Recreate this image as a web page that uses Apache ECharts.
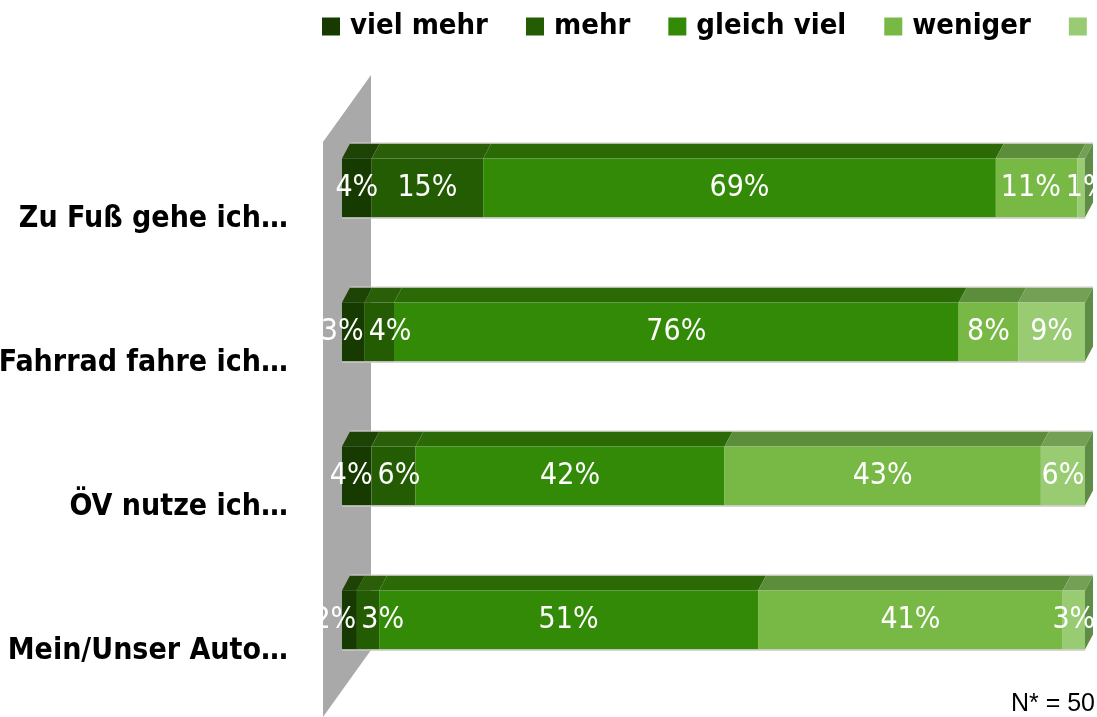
<!DOCTYPE html>
<html><head><meta charset="utf-8">
<script src="https://cdn.jsdelivr.net/npm/echarts@6/dist/echarts.min.js"></script>
<style>html,body{margin:0;padding:0;background:#fff}#c{width:1097px;height:717px}</style>
</head><body><div id="c"></div>
<script>
const categories = ['Zu Fuß gehe ich…', 'Fahrrad fahre ich…', 'ÖV nutze ich…', 'Mein/Unser Auto…'];
const seriesNames = ['viel mehr', 'mehr', 'gleich viel', 'weniger', 'viel weniger'];
const vielMehr    = [4, 3, 4, 2];
const mehr        = [15, 4, 6, 3];
const gleichViel  = [69, 76, 42, 51];
const weniger     = [11, 8, 43, 41];
const vielWeniger = [1, 9, 6, 3];
const noteText = 'N* = 50';

const seriesValues = [vielMehr, mehr, gleichViel, weniger, vielWeniger];
const frontColors = ['#173a00', '#235c02', '#338a07', '#77b944', '#99cc72'];
const topColors   = ['#1d4305', '#2a5e08', '#2b6a06', '#5c8d3b', '#73a055'];
const sideColor = '#5f8c47';
const NARROW = "'Liberation Sans Narrow', 'Arial Narrow', 'DejaVu Sans Condensed', sans-serif";
const LABEL_FONT_SIZE = 30;
const LABEL_FONT = LABEL_FONT_SIZE + 'px ' + NARROW;

// rows are shown as shares of 100 % (rounded values may sum to 101)
const rowTotals = categories.map((c, i) => seriesValues.reduce((s, vals) => s + vals[i], 0));
const starts = seriesValues.map(() => []);
const ends = seriesValues.map(() => []);
categories.forEach((c, i) => {
  let acc = 0;
  seriesValues.forEach((vals, s) => {
    starts[s][i] = acc / rowTotals[i] * 100;
    acc += vals[i];
    ends[s][i] = acc / rowTotals[i] * 100;
  });
});

const measureCtx = document.createElement('canvas').getContext('2d');
function textWidth(t) { measureCtx.font = LABEL_FONT; return measureCtx.measureText(t).width; }

// label centres for one category, pushed apart where they would overlap
function labelCentres(api, cat) {
  const cs = [], ws = [];
  seriesValues.forEach((vals, s) => {
    const a = api.coord([starts[s][cat], cat])[0];
    const b = api.coord([ends[s][cat], cat])[0];
    cs.push((a + b) / 2);
    ws.push(textWidth(vals[cat] + '%'));
  });
  const gap = 5;
  for (let k = 0; k < 20; k++) {
    for (let i = 0; i < cs.length - 1; i++) {
      const ov = (cs[i] + ws[i] / 2 + gap) - (cs[i + 1] - ws[i + 1] / 2);
      if (ov > 0.01) { cs[i] -= ov / 2; cs[i + 1] += ov / 2; }
    }
  }
  return cs;
}

function makeRender(si) {
  return function (params, api) {
    const start = api.value(0), end = api.value(1), cat = api.value(2), val = api.value(3);
    const a = api.coord([start, cat]);
    const b = api.coord([end, cat]);
    const h = api.size([0, 1])[1] * 0.41;
    const x0 = a[0], x1 = b[0], yT = a[1] - h / 2, yB = a[1] + h / 2;
    const dx = 8, dy = 15;
    const lx = labelCentres(api, cat)[si];
    const children = [
      { type: 'polygon', shape: { points: [[x0, yT], [x1, yT], [x1 + dx, yT - dy], [x0 + dx, yT - dy]] },
        style: { fill: topColors[si] } },
      { type: 'line', shape: { x1: x0 + dx, y1: yT - dy - 0.5, x2: x1 + dx, y2: yT - dy - 0.5 },
        style: { stroke: '#d0d0d0', lineWidth: 1 } },
      { type: 'rect', shape: { x: x0, y: yT, width: x1 - x0, height: h },
        style: { fill: frontColors[si] } },
      { type: 'line', shape: { x1: x0, y1: yB + 0.5, x2: x1, y2: yB + 0.5 },
        style: { stroke: '#c8c8c8', lineWidth: 1.5 } },
      { type: 'text', z2: 100, x: lx, y: a[1],
        style: { text: val + '%', fill: '#fff', font: LABEL_FONT, align: 'center', verticalAlign: 'middle' } }
    ];
    if (si === seriesValues.length - 1) {
      children.push({ type: 'polygon', shape: { points: [[x1, yT], [x1 + dx, yT - dy], [x1 + dx, yB - dy], [x1, yB]] },
        style: { fill: sideColor } });
    }
    return { type: 'group', children: children };
  };
}

const series = seriesNames.map((name, si) => ({
  name: name,
  type: 'custom',
  renderItem: makeRender(si),
  encode: { x: [0, 1], y: 2 },
  itemStyle: { color: frontColors[si] },
  z: 5,
  data: categories.map((c, i) => [starts[si][i], ends[si][i], i, seriesValues[si][i]])
}));

const chart = echarts.init(document.getElementById('c'), null, { renderer: 'canvas' });
chart.setOption({
  animation: false,
  backgroundColor: '#fff',
  color: frontColors,
  legend: {
    left: 317, top: 7, width: 1500,
    itemWidth: 18, itemHeight: 18, itemGap: 38,
    icon: 'rect',
    textStyle: { fontSize: 29, fontWeight: 'bold', fontFamily: NARROW, color: '#000', padding: [0, 0, 0, 5] },
    data: seriesNames
  },
  grid: { left: 342, top: 116, width: 743, height: 576, outerBoundsMode: 'none', containLabel: false },
  xAxis: { type: 'value', min: 0, max: 100, show: false },
  yAxis: {
    type: 'category', data: categories, inverse: true,
    axisLine: { show: false }, axisTick: { show: false }, splitLine: { show: false },
    axisLabel: { margin: 54, fontSize: 30, fontWeight: 'bold', fontFamily: NARROW, color: '#000',
      lineHeight: 62, formatter: v => '\n' + v }
  },
  graphic: [
    { type: 'polygon', z: -10, shape: { points: [[323, 142], [371, 75], [371, 650], [323, 717]] },
      style: { fill: '#a9a9a9' } },
    { type: 'text', right: 2, bottom: 0, style: { text: noteText, fontSize: 25, fontFamily: "'Liberation Sans', Arial, sans-serif", fill: '#000' } }
  ],
  series: series
});
</script></body></html>
